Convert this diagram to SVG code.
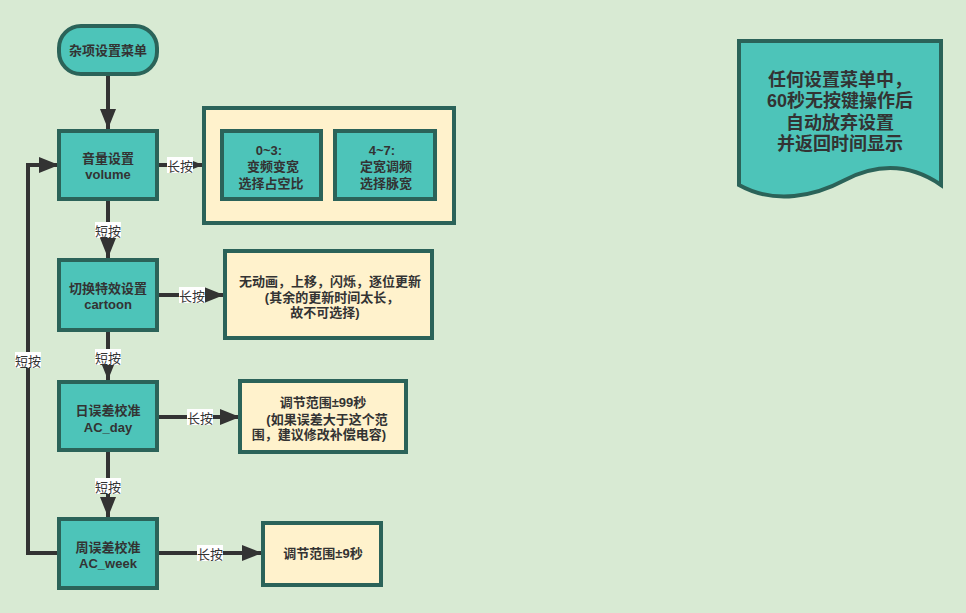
<svg xmlns="http://www.w3.org/2000/svg" width="966" height="613" viewBox="0 0 966 613">
<defs>
<style>
.bg{fill:#d8ead3}
.teal{fill:#4dc4b9;stroke:#2b6359;stroke-width:4}
.yel{fill:#fff2cc;stroke:#2b6359;stroke-width:4}
.t{font-family:"Liberation Sans","Noto Sans CJK SC",sans-serif;font-size:13px;font-weight:bold;fill:#333;text-anchor:middle;dominant-baseline:central}
.big{font-size:18px}
.lbl{font-family:"Noto Sans CJK SC",sans-serif;font-size:13px;fill:#333;text-anchor:middle;dominant-baseline:central}
.lblbg{fill:#fff}
.edge{fill:none;stroke:#333;stroke-width:4}
</style>
<marker id="ah" markerUnits="userSpaceOnUse" markerWidth="22" markerHeight="16" refX="20" refY="8" orient="auto">
<path d="M0,0 L20,8 L0,16 Z" fill="#333"/>
</marker>
</defs>
<rect class="bg" x="0" y="0" width="966" height="613"/>

<g id="edges">
<path class="edge" d="M108,76 V129" marker-end="url(#ah)"/>
<path class="edge" d="M108,201 V258" marker-end="url(#ah)"/>
<path class="edge" d="M108,332 V380" marker-end="url(#ah)"/>
<path class="edge" d="M108,452 V517" marker-end="url(#ah)"/>
<path class="edge" d="M159,165 H203" marker-end="url(#ah)"/>
<path class="edge" d="M159,295 H224" marker-end="url(#ah)"/>
<path class="edge" d="M159,417 H240" marker-end="url(#ah)"/>
<path class="edge" d="M159,553 H262" marker-end="url(#ah)"/>
<path class="edge" d="M57,553 H28 V165 H59" marker-end="url(#ah)"/>
<rect class="lblbg" x="95" y="222" width="26" height="16"/>
<text class="lbl" x="108" y="230">短按</text>
<rect class="lblbg" x="95" y="349" width="26" height="16"/>
<text class="lbl" x="108" y="357">短按</text>
<rect class="lblbg" x="95" y="478" width="26" height="16"/>
<text class="lbl" x="108" y="486">短按</text>
<rect class="lblbg" x="15" y="352" width="26" height="16"/>
<text class="lbl" x="28" y="360">短按</text>
<rect class="lblbg" x="167" y="157" width="26" height="16"/>
<text class="lbl" x="180" y="165">长按</text>
<rect class="lblbg" x="179" y="287" width="26" height="16"/>
<text class="lbl" x="192" y="295">长按</text>
<rect class="lblbg" x="187" y="409" width="26" height="16"/>
<text class="lbl" x="200" y="417">长按</text>
<rect class="lblbg" x="197" y="545" width="26" height="16"/>
<text class="lbl" x="210" y="553">长按</text>
</g>

<g id="start">
<rect class="teal" x="59" y="26" width="98" height="48" rx="22" ry="22"/>
<text class="t" x="108" y="50">杂项设置菜单</text>
</g>

<g id="volume">
<rect class="teal" x="59" y="131" width="98" height="68"/>
<text class="t" x="108" y="158">音量设置</text>
<text class="t" x="108" y="174">volume</text>
</g>

<g id="volume-options">
<rect class="yel" x="204" y="108" width="250" height="115"/>
</g>
<g id="vol-0-3">
<rect class="teal" x="222" y="131" width="99" height="68"/>
<text class="t" x="269" y="150">0~3:</text>
<text class="t" x="273" y="166">变频变宽</text>
<text class="t" x="271" y="183">选择占空比</text>
</g>
<g id="vol-4-7">
<rect class="teal" x="335" y="131" width="100" height="68"/>
<text class="t" x="382" y="150">4~7:</text>
<text class="t" x="386" y="166">定宽调频</text>
<text class="t" x="386" y="183">选择脉宽</text>
</g>

<g id="cartoon">
<rect class="teal" x="59" y="260" width="98" height="70"/>
<text class="t" x="108" y="288">切换特效设置</text>
<text class="t" x="108" y="304">cartoon</text>
</g>
<g id="cartoon-options">
<rect class="yel" x="225" y="251" width="207" height="87"/>
<text class="t" x="330" y="281">无动画，上移，闪烁，逐位更新</text>
<text class="t" x="332" y="297">(其余的更新时间太长，</text>
<text class="t" x="325" y="312">故不可选择)</text>
</g>

<g id="ac-day">
<rect class="teal" x="59" y="382" width="98" height="68"/>
<text class="t" x="108" y="410">日误差校准</text>
<text class="t" x="108" y="427">AC_day</text>
</g>
<g id="ac-day-range">
<rect class="yel" x="240" y="381" width="166" height="71"/>
<text class="t" x="323" y="402">调节范围±99秒</text>
<text class="t" x="327" y="419">(如果误差大于这个范</text>
<text class="t" x="319" y="434">围，建议修改补偿电容)</text>
</g>

<g id="ac-week">
<rect class="teal" x="59" y="519" width="98" height="69"/>
<text class="t" x="108" y="547">周误差校准</text>
<text class="t" x="108" y="563">AC_week</text>
</g>
<g id="ac-week-range">
<rect class="yel" x="263" y="523" width="118" height="62"/>
<text class="t" x="323" y="553">调节范围±9秒</text>
</g>

<g id="note">
<path class="teal" d="M739,41 H941 V185 C912,165 880,162 845,180 C815,196 775,205 739,185 Z"/>
<text class="t big" x="840" y="80">任何设置菜单中，</text>
<text class="t big" x="840" y="101">60秒无按键操作后</text>
<text class="t big" x="840" y="123">自动放弃设置</text>
<text class="t big" x="840" y="144">并返回时间显示</text>
</g>
</svg>
